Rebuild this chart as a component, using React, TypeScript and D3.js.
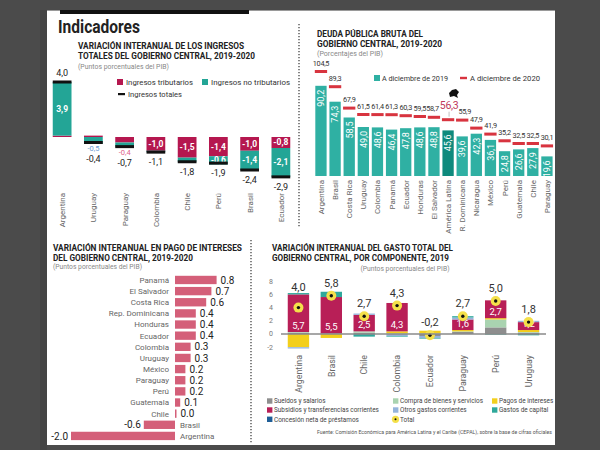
import React from "react";
import * as d3 from "d3";

// ---------- Panel 1: Variación interanual de los ingresos ----------
const incomeCountries = ["Argentina", "Uruguay", "Paraguay", "Colombia", "Chile", "Perú", "Brasil", "Ecuador"];
const taxIncome = [0.1, 0.1, -0.4, -1.0, -1.5, -1.4, -1.0, -0.8];
const nonTaxIncome = [3.9, -0.5, -0.3, -0.1, -0.3, -0.6, -1.4, -2.1];
const totalIncome = [4.0, -0.4, -0.7, -1.1, -1.8, -1.9, -2.4, -2.9];
// segment shown with a label under the bar (0 = tributarios, 1 = no tributarios)
const outsideLabelSeg: Record<string, number> = { Uruguay: 1, Paraguay: 0 };

// ---------- Panel 2: Deuda pública bruta ----------
const debtCountries = ["Argentina", "Brasil", "Costa Rica", "Uruguay", "Colombia", "Panamá", "Ecuador", "Honduras", "El Salvador", "América Latina", "R. Dominicana", "Nicaragua", "México", "Perú", "Guatemala", "Chile", "Paraguay"];
const debt2019 = [90.2, 74.3, 58.5, 49.0, 48.6, 46.4, 47.8, 48.6, 48.8, 45.6, 39.6, 42.3, 36.1, 24.8, 26.6, 27.9, 19.6];
const debt2020 = [104.5, 89.3, 67.9, 61.5, 61.4, 61.3, 60.3, 59.5, 58.7, 56.3, 55.9, 47.9, 41.9, 35.2, 32.5, 32.5, 30.1];

// ---------- Panel 3: Pago de intereses ----------
const interestCountries = ["Panamá", "El Salvador", "Costa Rica", "Rep. Dominicana", "Honduras", "Ecuador", "Colombia", "Uruguay", "México", "Paraguay", "Perú", "Guatemala", "Chile", "Brasil", "Argentina"];
const interestValues = [0.8, 0.7, 0.6, 0.4, 0.4, 0.4, 0.3, 0.3, 0.2, 0.2, 0.2, 0.1, 0.0, -0.6, -2.0];

// ---------- Panel 4: Gasto total por componente ----------
const spendCountries = ["Argentina", "Brasil", "Chile", "Colombia", "Ecuador", "Paraguay", "Perú", "Uruguay"];
const componentNames = ["Sueldos y salarios", "Compra de bienes y servicios", "Pagos de intereses", "Subsidios y transferencias corrientes", "Otros gastos corrientes", "Gastos de capital", "Concesión neta de préstamos"];
const sueldos = [0.2, 0.1, 0.2, 0.0, -0.3, 0.3, 1.0, 0.2];
const compra = [0.1, 0.0, 0.2, 0.1, 0.1, 0.1, 1.2, 0.1];
const intereses = [-2.0, -0.6, 0.0, 0.3, 0.4, 0.2, 0.2, 0.3];
const subsidios = [5.7, 5.5, 2.5, 4.3, 0.0, 1.6, 2.7, 1.2];
const otros = [-0.2, 0.0, 0.2, -0.3, -0.3, 0.3, 0.0, 0.2];
const capital = [0.2, 0.8, -0.4, -0.1, -0.1, 0.2, -0.1, -0.2];
const concesion = [0, 0, 0, 0, 0, 0, 0, 0];
const spendTotal = [4.0, 5.8, 2.7, 4.3, -0.2, 2.7, 5.0, 1.8];
const spendTicks = [-2, 0, 2, 4, 6, 8];

const W = 600;
const H = 450;
const F = "Roboto, 'Noto Sans', 'DejaVu Sans', sans-serif";
const MAG = "#b5174f";
const TEAL = "#23a596";
const compColors = ["#8e8e8e", "#a9d3b0", "#f3cf1c", "#b81f57", "#94b4dc", "#2fa89b", "#1f5e97"];
const debtLabelNudge: Record<string, number> = { "El Salvador": -1.5, "R. Dominicana": 2.5 };

const fc = (v: number) => v.toFixed(1).replace(".", ",");
const fd = (v: number) => v.toFixed(1);

type Seg = { v: number; a: number; b: number; k: number };
function stack(vals: number[]): Seg[] {
  let pos = 0, neg = 0;
  return vals.map((v, k) => {
    if (v >= 0) { const a = pos; pos += v; return { v, a, b: pos, k }; }
    const a = neg; neg += v; return { v, a, b: neg, k };
  });
}

function Title({ x, y, lines, widths, size = 8.2 }: { x: number; y: number; lines: string[]; widths: number[]; size?: number }) {
  return (
    <g>
      {lines.map((l, i) => (
        <text key={i} x={x} y={y + i * 10} fontFamily={F} fontWeight={700} fontSize={size} fill="#222" textLength={widths[i]} lengthAdjust="spacingAndGlyphs">{l}</text>
      ))}
    </g>
  );
}

export default function App() {
  // ---- panel 1 scales
  const x1 = d3.scaleBand<string>().domain(incomeCountries).range([46.5, 296.5]).paddingInner(0.4).paddingOuter(0.2);
  const y1 = d3.scaleLinear().domain([0, 4]).range([137, 82]);
  const bw1 = x1.bandwidth();

  // ---- panel 2 scales
  const x2 = d3.scaleBand<string>().domain(debtCountries).range([313.9, 554]).paddingInner(0.2).paddingOuter(0.1);
  const y2 = d3.scaleLinear().domain([0, 104.5]).range([176, 71.5]);
  const bw2 = x2.bandwidth();

  // ---- panel 3 scales
  const x3 = d3.scaleLinear().domain([-2, 0.8]).range([71, 216.6]);
  const y3 = d3.scaleBand<string>().domain(interestCountries).range([274.4, 441.5]).paddingInner(0.25).paddingOuter(0.125);
  const bh3 = y3.bandwidth();

  // ---- panel 4 scales
  const x4 = d3.scaleBand<string>().domain(spendCountries).range([282, 545]).paddingInner(0.35).paddingOuter(0.175);
  const y4 = d3.scaleLinear().domain([-2, 8]).range([347.2, 281.2]);
  const bw4 = x4.bandwidth();
  const compSeries = [sueldos, compra, intereses, subsidios, otros, capital, concesion];

  return (
    <svg width={W} height={H} style={{ position: "absolute", left: 0, top: 0 }} fontFamily={F}>
      <rect x={0} y={0} width={W} height={H} fill="#4b4b4b" />
      <rect x={40} y={10} width={7} height={440} fill="#444" />
      <rect x={47} y={10} width={508} height={435} fill="#ffffff" />
      <line x1={47} x2={555} y1={10.5} y2={10.5} stroke="#9a9a9a" />
      <rect x={60} y={10} width={189} height={4} fill="#111" />

      {/* dotted separators */}
      <line x1={299} x2={299} y1={24} y2={228} stroke="#444" strokeWidth={1.3} strokeDasharray="1.3 1.7" />
      <line x1={251} x2={251} y1={240} y2={443} stroke="#444" strokeWidth={1.3} strokeDasharray="1.3 1.7" />

      {/* ================= Panel 1 ================= */}
      <text x={58} y={33} fontFamily={F} fontWeight={700} fontSize={18} fill="#222" textLength={82} lengthAdjust="spacingAndGlyphs">Indicadores</text>
      <Title x={78} y={49} lines={["VARIACIÓN INTERANUAL DE LOS INGRESOS", "TOTALES DEL GOBIERNO CENTRAL, 2019-2020"]} widths={[166, 177]} />
      <text x={78} y={69} fontSize={6.5} fill="#888" textLength={91} lengthAdjust="spacingAndGlyphs">(Puntos porcentuales del PIB)</text>

      {/* legend */}
      <rect x={117} y={79} width={6} height={6} fill={MAG} />
      <text x={126} y={85} fontSize={8} fill="#333" textLength={67} lengthAdjust="spacingAndGlyphs">Ingresos tributarios</text>
      <rect x={202} y={79} width={6} height={6} fill={TEAL} />
      <text x={211} y={85} fontSize={8} fill="#333" textLength={79} lengthAdjust="spacingAndGlyphs">Ingresos no tributarios</text>
      <rect x={118} y={93} width={7} height={2.2} fill="#111" />
      <text x={128} y={97} fontSize={8} fill="#333" textLength={54} lengthAdjust="spacingAndGlyphs">Ingresos totales</text>

      {incomeCountries.map((c, i) => {
        const x = x1(c)!;
        const cx = x + bw1 / 2;
        const segs = stack([taxIncome[i], nonTaxIncome[i]]);
        const tot = totalIncome[i];
        const outSeg = outsideLabelSeg[c];
        const hasOut = outSeg !== undefined;
        return (
          <g key={c}>
            {segs.map((s) => (
              <rect key={s.k} x={x} width={bw1} y={y1(Math.max(s.a, s.b))} height={Math.abs(y1(s.a) - y1(s.b))} fill={s.k === 0 ? MAG : TEAL} />
            ))}
            {segs.filter((s) => Math.abs(s.v) >= 0.6).map((s) => (
              <text key={"l" + s.k} x={cx} y={y1((s.a + s.b) / 2)} dy="0.35em" textAnchor="middle" fontSize={8.5} fontWeight={700} fill="#fff">{fc(s.v)}</text>
            ))}
            {hasOut && (
              <text x={cx} y={y1(tot) + 6} dy="0.35em" textAnchor="middle" fontSize={7.5} fill={outSeg === 0 ? "#e0628a" : "#6a9bd3"}>{fc(outSeg === 0 ? taxIncome[i] : nonTaxIncome[i])}</text>
            )}
            <rect x={x} width={bw1} y={y1(tot) - 1.5} height={3} fill="#111" />
            <text x={cx} y={tot >= 0 ? y1(tot) - 9 : y1(tot) + (hasOut ? 16 : 10)} dy="0.35em" textAnchor="middle" fontSize={9} fill="#222">{fc(tot)}</text>
            <text transform={`translate(${cx + 3},193) rotate(-90)`} textAnchor="end" fontSize={8} fill="#666">{c}</text>
          </g>
        );
      })}

      {/* ================= Panel 2 ================= */}
      <Title x={317} y={37} lines={["DEUDA PÚBLICA BRUTA DEL", "GOBIERNO CENTRAL, 2019-2020"]} widths={[106, 125]} />
      <text x={317} y={56} fontSize={6.5} fill="#888" textLength={66} lengthAdjust="spacingAndGlyphs">(Porcentajes del PIB)</text>
      <rect x={374} y={75} width={6} height={6} fill="#2fb0a3" />
      <text x={382} y={81} fontSize={8} fill="#333" textLength={66} lengthAdjust="spacingAndGlyphs">A diciembre de 2019</text>
      <rect x={460} y={76.8} width={7} height={2.4} fill="#d8343f" />
      <text x={470} y={81} fontSize={8} fill="#333" textLength={70} lengthAdjust="spacingAndGlyphs">A diciembre de 2020</text>

      {debtCountries.map((c, i) => {
        const x = x2(c)!;
        const cx = x + bw2 / 2;
        const isAL = c === "América Latina";
        const v19 = debt2019[i];
        const v20 = debt2020[i];
        return (
          <g key={c}>
            <rect x={x} width={bw2} y={y2(v19)} height={y2(0) - y2(v19)} fill={isAL ? "#0e8a7d" : "#2fb0a3"} />
            <text transform={`translate(${cx + 3.3},${y2(v19) + 4}) rotate(-90)`} textAnchor="end" fontSize={9} fill="#fff">{fc(v19)}</text>
            <rect x={x - 0.5} width={bw2 + 1} y={y2(v20) - 1.5} height={3} fill="#d8343f" />
            {isAL ? (
              <g>
                <text x={cx + 1} y={y2(v20) - 11} textAnchor="middle" fontSize={10.5} letterSpacing={-0.3} fill="#c0395a">{fc(v20)}</text>
                <line x1={cx + 1} x2={cx + 1} y1={y2(v20) - 8} y2={y2(v20) - 3} stroke="#999" strokeWidth={0.6} />
              </g>
            ) : (
              <text x={cx + (debtLabelNudge[c] || 0)} y={y2(v20) - 6} textAnchor="middle" fontSize={7.3} fill="#333" letterSpacing={-0.3}>{fc(v20)}</text>
            )}
            <text transform={`translate(${cx + 3},180) rotate(-90)`} textAnchor="end" fontSize={8} fill="#666">{c}</text>
          </g>
        );
      })}
      <path d="M449,93 L452,90 L456,89 L459,92 L457,95 L458,98 L454,96 L450,97 Z" fill="#111" />

      {/* ================= Panel 3 ================= */}
      <Title x={53} y={251} lines={["VARIACIÓN INTERANUAL EN PAGO DE INTERESES", "DEL GOBIERNO CENTRAL, 2019-2020"]} widths={[189, 140]} size={8.4} />
      <text x={53} y={268.5} fontSize={6.5} fill="#888" textLength={89} lengthAdjust="spacingAndGlyphs">(Puntos porcentuales del PIB)</text>
      {interestCountries.map((c, i) => {
        const v = interestValues[i];
        const y = y3(c)!;
        const cy = y + bh3 / 2;
        const x0 = x3(0);
        const xv = x3(v);
        const w = Math.max(Math.abs(xv - x0), 1.5);
        const neg = v < 0;
        return (
          <g key={c}>
            <rect x={neg ? xv : x0} y={y} width={w} height={bh3} fill="#d45f79" />
            {neg ? (
              <g>
                <text x={xv - 3} y={cy} dy="0.36em" textAnchor="end" fontSize={10} fill="#222">{fd(v)}</text>
                <text x={x0 + 5} y={cy} dy="0.36em" fontSize={8} fill="#666">{c}</text>
              </g>
            ) : (
              <g>
                <text x={x0 + w + 4} y={cy} dy="0.36em" fontSize={10} fill="#222">{fd(v)}</text>
                <text x={x0 - 6} y={cy} dy="0.36em" textAnchor="end" fontSize={8} fill="#666">{c}</text>
              </g>
            )}
          </g>
        );
      })}

      {/* ================= Panel 4 ================= */}
      <Title x={272} y={251} lines={["VARIACIÓN INTERANUAL DEL GASTO TOTAL DEL", "GOBIERNO CENTRAL, POR COMPONENTE, 2019"]} widths={[181, 177]} size={8.4} />
      <text x={405} y={271} textAnchor="middle" fontSize={6.5} fill="#888" textLength={89} lengthAdjust="spacingAndGlyphs">(Puntos porcentuales del PIB)</text>
      {spendTicks.map((t) => (
        <text key={t} x={273} y={y4(t)} dy="0.35em" textAnchor="end" fontSize={7} fill="#777">{t}</text>
      ))}
      {spendCountries.map((c, i) => {
        const x = x4(c)!;
        const cx = x + bw4 / 2;
        const segs = stack(compSeries.map((s) => s[i]));
        const posTop = segs.filter((s) => s.v > 0).reduce((m, s) => Math.max(m, s.b), 0);
        const sub = segs[3];
        const tot = spendTotal[i];
        const labelY = Math.min(y4(posTop), y4(tot) - 7) - 2;
        return (
          <g key={c}>
            {segs.filter((s) => s.v !== 0).map((s) => (
              <rect key={s.k} x={x} width={bw4} y={y4(Math.max(s.a, s.b))} height={Math.abs(y4(s.a) - y4(s.b))} fill={compColors[s.k]} />
            ))}
            {sub.v > 0 && (
              <text x={cx} y={y4(sub.a) - 3} textAnchor="middle" fontSize={9.5} fill="#fff">{fc(sub.v)}</text>
            )}
            <text x={cx} y={labelY} textAnchor="middle" fontSize={11} fill="#333">{fc(tot)}</text>
            <circle cx={cx} cy={y4(tot)} r={5} fill="#f4e04a" />
            <circle cx={cx} cy={y4(tot)} r={1.7} fill="#111" />
            <text transform={`translate(${cx + 3.2},355) rotate(-90)`} textAnchor="end" fontSize={8.8} fill="#666">{c}</text>
          </g>
        );
      })}
      <line x1={281} x2={546} y1={y4(0)} y2={y4(0)} stroke="#8a8a8a" strokeWidth={1.4} />

      {/* legend panel 4 */}
      {[
        { k: 0, x: 267, y: 401 },
        { k: 3, x: 267, y: 410 },
        { k: 6, x: 267, y: 419.3 },
        { k: 1, x: 393, y: 401 },
        { k: 4, x: 393, y: 410 },
        { k: 2, x: 492, y: 401 },
        { k: 5, x: 492, y: 410 },
      ].map((d) => (
        <g key={d.k}>
          <rect x={d.x} y={d.y - 2.7} width={5.4} height={5.4} fill={compColors[d.k]} />
          <text x={d.x + 7} y={d.y} dy="0.35em" fontSize={6.4} fill="#444">{componentNames[d.k]}</text>
        </g>
      ))}
      <circle cx={395.5} cy={419.3} r={3.6} fill="#f4e04a" />
      <circle cx={395.5} cy={419.3} r={1} fill="#111" />
      <text x={400} y={419.3} dy="0.35em" fontSize={6.4} fill="#444">Total</text>

      <text x={552} y={434} textAnchor="end" fontSize={5} fill="#555" textLength={235} lengthAdjust="spacingAndGlyphs">Fuente: Comisión Económica para América Latina y el Caribe (CEPAL), sobre la base de cifras oficiales</text>
    </svg>
  );
}
